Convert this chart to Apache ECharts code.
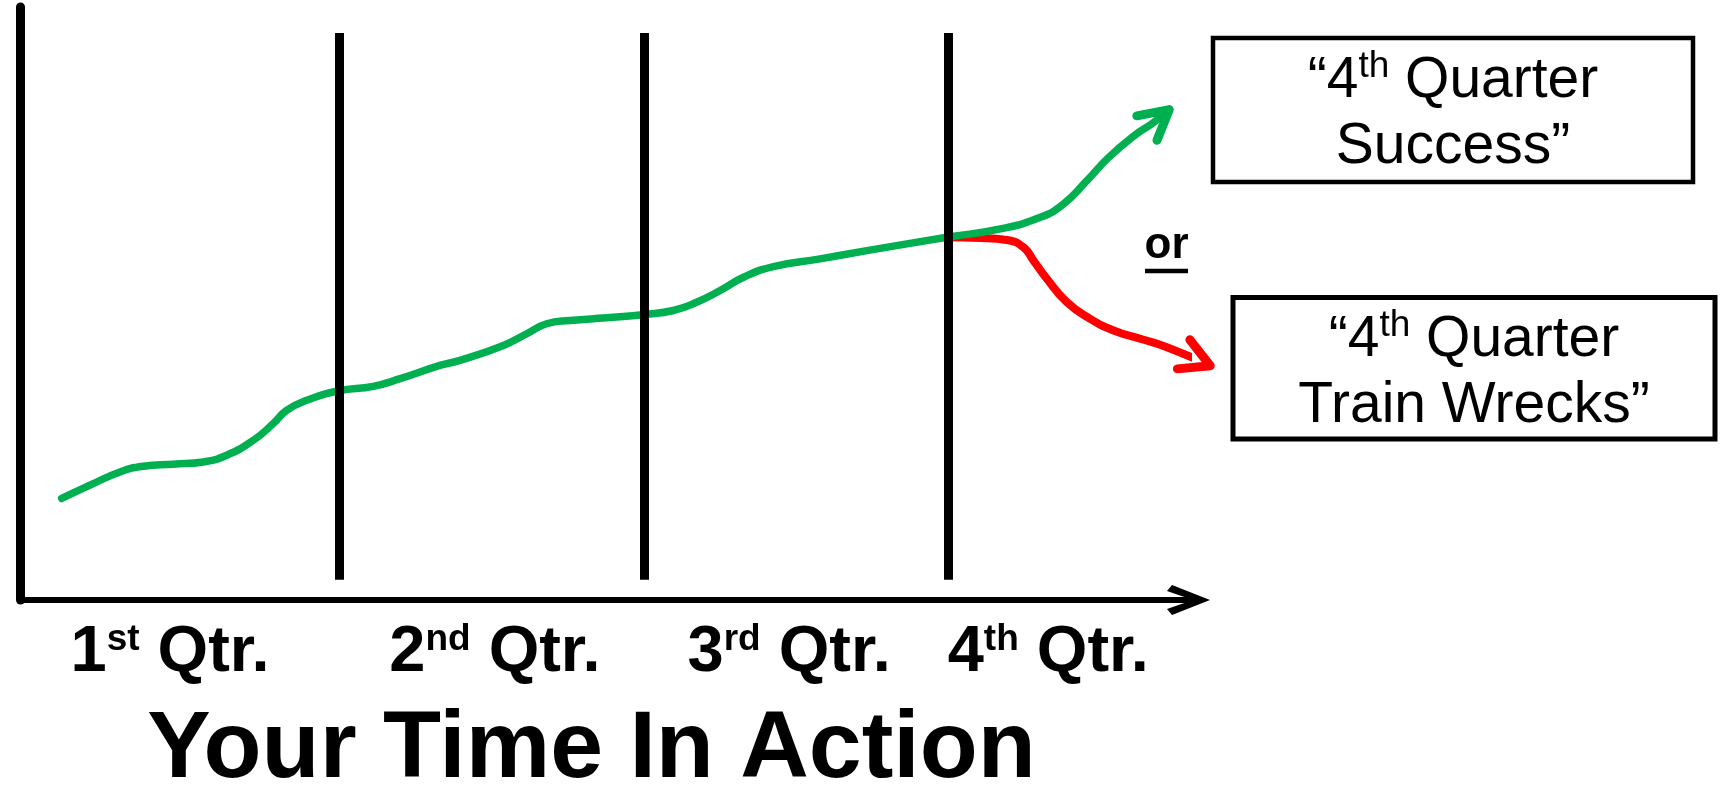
<!DOCTYPE html>
<html>
<head>
<meta charset="utf-8">
<script src="https://cdn.jsdelivr.net/npm/echarts@6/dist/echarts.min.js"></script>
<style>
  html, body { margin: 0; padding: 0; background: #fff; }
  #chart { width: 1727px; height: 789px; }
</style>
</head>
<body>
<div id="chart"></div>
<script>
// Time axis is measured in weeks: four quarters of 13 weeks.
const quarterBounds = [13, 26, 39];
const quarterLabelAt = [5.76, 19.64, 32.21, 43.28];
const quarterNums = ['1', '2', '3', '4'];
const quarterSuffix = ['st', 'nd', 'rd', 'th'];
const axisTitle = 'Your Time In Action';

// Progress through the year, ending in a strong 4th quarter.
const successPath = [
  [1.13, 17.12], [2.34, 19.36], [3.62, 21.6], [4.62, 22.56], [5.90, 22.9],
  [7.18, 23.28], [8.18, 24.41], [9.32, 26.94], [10.17, 29.75], [10.74, 31.99],
  [11.60, 33.67], [12.95, 35.24], [14.44, 36.03], [15.59, 37.32], [17.29, 39.56],
  [18.15, 40.4], [20.0, 42.93], [21.0, 44.9], [21.85, 46.58], [22.85, 47.14],
  [24.42, 47.59], [26.06, 48.15], [27.26, 48.82], [28.26, 50.22], [29.26, 52.19],
  [30.26, 54.43], [31.54, 56.23], [33.53, 57.53], [35.53, 58.92], [38.95, 61.16],
  [41.23, 62.58], [42.94, 64.53], [43.93, 66.78], [44.93, 70.71], [45.85, 74.6],
  [46.95, 78.3], [47.78, 80.52], [48.45, 82.7]
];

// The alternative branch that falls apart after the 4th quarter begins.
const wreckPath = [
  [38.95, 61.16], [40.37, 61.06], [41.51, 60.72], [42.22, 59.48], [42.65, 57.24],
  [43.22, 54.16], [44.08, 50.22], [45.07, 47.42], [46.07, 45.45], [47.21, 44.06],
  [48.35, 42.64], [50.2, 39.5]
];

const GREEN = '#00B050';
const RED = '#FF0000';
const FONT = '"Liberation Sans", Arial, Helvetica, sans-serif';

// Arrowheads sit on the last point of each path, aimed along its last segment.
function headOf(path, color) {
  const tip = path[path.length - 1];
  const prev = path[path.length - 2];
  return { value: [tip[0], tip[1], prev[0], prev[1]], itemStyle: { color: color } };
}

const dividerLines = quarterBounds.map(function (x) {
  return [{ coord: [x, 95.6] }, { coord: [x, 3.4] }];
});

const boxRich = {
  m: { fontFamily: FONT, fontSize: 57, lineHeight: 66, fill: '#000' },
  s: { fontFamily: FONT, fontSize: 37, lineHeight: 44, fill: '#000', verticalAlign: 'top' }
};

const chart = echarts.init(document.getElementById('chart'), null, { renderer: 'canvas' });

chart.setOption({
  animation: false,
  backgroundColor: '#fff',
  grid: { left: 20, right: 539, top: 7, bottom: 189, containLabel: false, outerBoundsMode: 'none' },
  xAxis: {
    type: 'value',
    min: -0.65,
    max: 49.25,
    splitLine: { show: false },
    axisTick: { show: false },
    axisLine: {
      show: true,
      onZero: false,
      symbol: ['none', 'path://M15 0L30 38L24 43L15 17L6 43L0 38Z M12 10L18 10L18 44L12 44Z'],
      symbolSize: [30, 44],
      lineStyle: { color: '#000', width: 6 }
    },
    axisLabel: {
      show: true,
      customValues: quarterLabelAt,
      hideOverlap: false,
      margin: 21,
      formatter: function (v) {
        let best = 0;
        quarterLabelAt.forEach(function (p, i) {
          if (Math.abs(p - v) < Math.abs(quarterLabelAt[best] - v)) best = i;
        });
        return '{m|' + quarterNums[best] + '}{s|' + quarterSuffix[best] + '}{m| Qtr.}';
      },
      rich: {
        m: { fontFamily: FONT, fontWeight: 'bold', fontSize: 65, lineHeight: 65, color: '#000' },
        s: { fontFamily: FONT, fontWeight: 'bold', fontSize: 37, lineHeight: 43, color: '#000', verticalAlign: 'top' }
      }
    },
    name: axisTitle,
    nameLocation: 'middle',
    nameGap: 103,
    nameTextStyle: {
      fontFamily: FONT, fontWeight: 'bold', fontSize: 95, lineHeight: 95, color: '#000',
      padding: [0, 25, 0, 0]
    }
  },
  yAxis: {
    type: 'value',
    min: 0,
    max: 100,
    splitLine: { show: false },
    axisTick: { show: false },
    axisLabel: { show: false },
    axisLine: { show: true, onZero: false, lineStyle: { color: '#000', width: 9 } }
  },
  series: [
    {
      name: '4th Quarter Success',
      type: 'line',
      data: successPath,
      smooth: 0.5,
      symbol: 'none',
      clip: false,
      z: 3,
      lineStyle: { color: GREEN, width: 7.5, cap: 'round', join: 'round' },
      markLine: {
        silent: true,
        symbol: ['none', 'none'],
        label: { show: false },
        emphasis: { disabled: true },
        lineStyle: { color: '#000', width: 9, type: 'solid' },
        data: dividerLines
      }
    },
    {
      name: '4th Quarter Train Wrecks',
      type: 'line',
      data: wreckPath,
      smooth: 0.5,
      symbol: 'none',
      clip: false,
      z: 2,
      lineStyle: { color: RED, width: 8, cap: 'round', join: 'round' }
    },
    {
      name: 'arrowheads',
      type: 'custom',
      coordinateSystem: 'cartesian2d',
      clip: false,
      z: 4,
      silent: true,
      data: [headOf(successPath, GREEN), headOf(wreckPath, RED)],
      renderItem: function (params, api) {
        const tip = api.coord([api.value(0), api.value(1)]);
        const prev = api.coord([api.value(2), api.value(3)]);
        const a = Math.atan2(tip[1] - prev[1], tip[0] - prev[0]);
        const len = 33, spread = 0.5;
        const wing = function (s) {
          return [tip[0] - len * Math.cos(a + s), tip[1] - len * Math.sin(a + s)];
        };
        return {
          type: 'polyline',
          shape: { points: [wing(-spread), tip, wing(spread)] },
          style: { stroke: api.visual('color'), fill: 'none', lineWidth: 9, lineJoin: 'round', lineCap: 'round' }
        };
      }
    }
  ],
  graphic: [
    {
      type: 'rect', z: 10,
      shape: { x: 1213, y: 38, width: 480, height: 144 },
      style: { fill: '#fff', stroke: '#000', lineWidth: 4.5 }
    },
    {
      type: 'text', z: 11, x: 1453, y: 114,
      style: {
        text: '{m|\u201C4}{s|th}{m| Quarter}\n{m|Success\u201D}',
        align: 'center', verticalAlign: 'middle', fill: '#000',
        rich: boxRich
      }
    },
    {
      type: 'rect', z: 10,
      shape: { x: 1233, y: 297.5, width: 482, height: 141.5 },
      style: { fill: '#fff', stroke: '#000', lineWidth: 5 }
    },
    {
      type: 'text', z: 11, x: 1474, y: 373,
      style: {
        text: '{m|\u201C4}{s|th}{m| Quarter}\n{m|Train Wrecks\u201D}',
        align: 'center', verticalAlign: 'middle', fill: '#000',
        rich: boxRich
      }
    },
    {
      type: 'text', z: 11, x: 1166.5, y: 246,
      style: {
        text: 'or', align: 'center', verticalAlign: 'middle', fill: '#000',
        font: 'bold 44px ' + FONT
      }
    },
    {
      type: 'line', z: 11,
      shape: { x1: 1145, y1: 271, x2: 1188, y2: 271 },
      style: { stroke: '#000', lineWidth: 4.5 }
    }
  ]
});
</script>
</body>
</html>
